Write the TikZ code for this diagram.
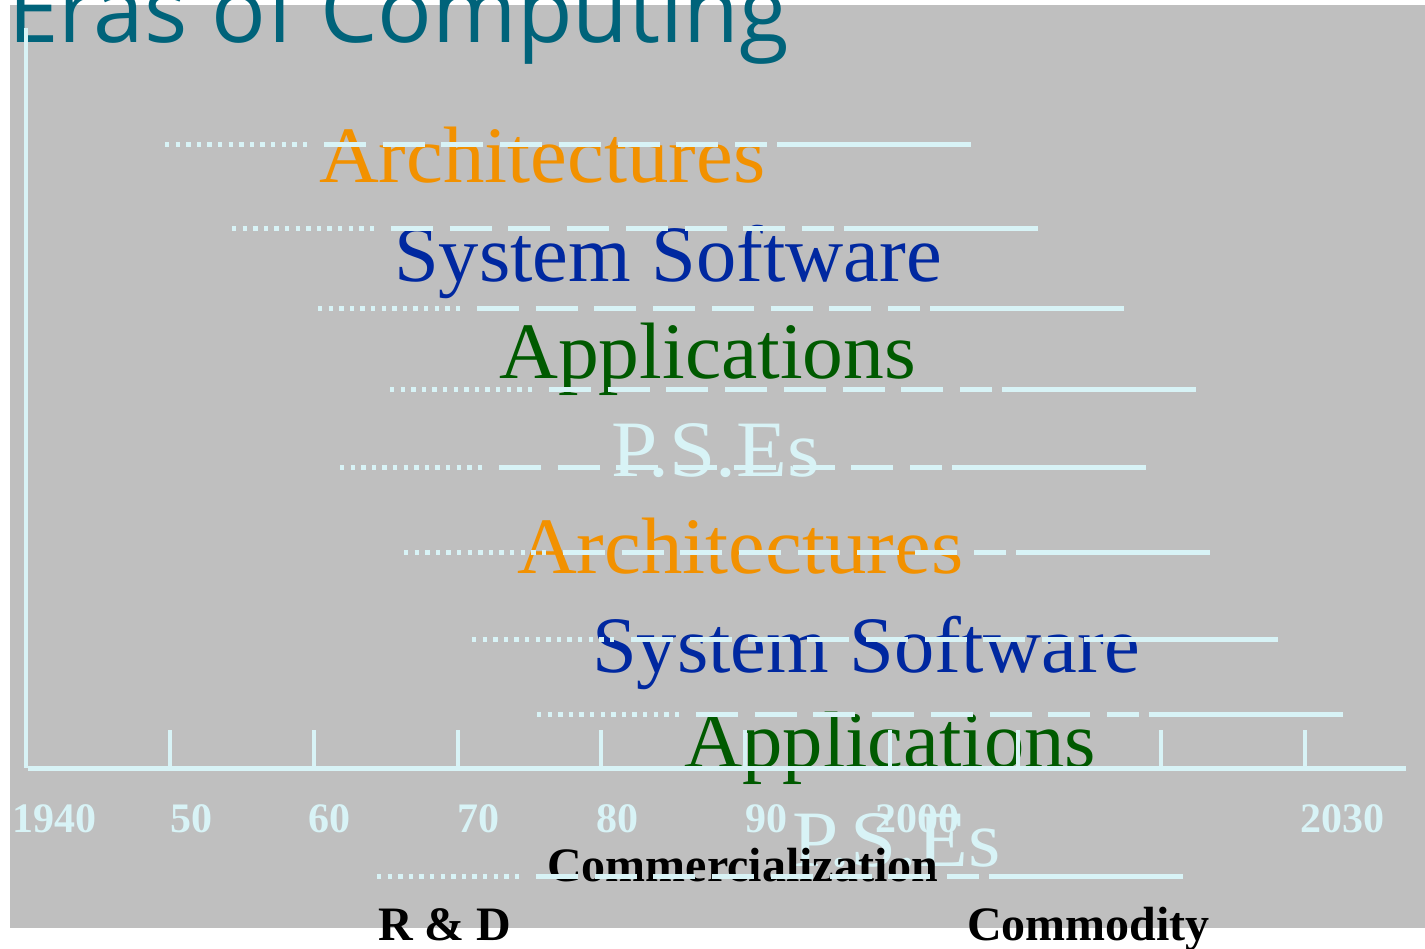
\documentclass[tikz,border=0pt]{standalone}
\usepackage{fontspec}
\usepackage{graphicx}
\setmainfont{Liberation Serif}
\newfontfamily\titlefont{Open Sans}
\definecolor{bggray}{RGB}{191,191,191}
\definecolor{linecyan}{RGB}{216,243,246}
\definecolor{archorange}{RGB}{242,145,0}
\definecolor{sysblue}{RGB}{0,40,160}
\definecolor{appgreen}{RGB}{0,90,0}
\definecolor{titleteal}{RGB}{0,99,122}
\tikzset{
  lbl/.style={anchor=base west, inner sep=0pt, font=\fontsize{80}{96}\selectfont},
  yearlbl/.style={anchor=base west, inner sep=0pt, text=linecyan, font=\fontsize{42}{50}\selectfont\bfseries},
  phaselbl/.style={anchor=base west, inner sep=0pt, text=black, font=\fontsize{48}{58}\selectfont\bfseries},
  dotseg/.style={draw=linecyan, line width=5pt, dash pattern=on 4.3pt off 6.3pt},
  dashseg/.style={draw=linecyan, line width=5pt, dash pattern=on 42pt off 16.7pt},
  solidseg/.style={draw=linecyan, line width=5pt},
  axisline/.style={draw=linecyan, line width=5pt},
  tickline/.style={draw=linecyan, line width=3.5pt}
}
\begin{document}
\begin{tikzpicture}[x=1pt,y=-1pt]
\useasboundingbox (0,0) rectangle (1425,949);
\fill[bggray] (10,5) rectangle (1425,928);
% title
\node[anchor=base west, inner sep=0pt, text=titleteal, font=\fontsize{91}{100}\titlefont] (title) at (8,43) {\scalebox{0.998}[1]{Eras of Computing}};
% labels
\node[lbl, text=archorange] (arch1) at (319,183) {\scalebox{1.035}[1]{Architectures}};
\node[lbl, text=sysblue] (sys1) at (394,282) {\scalebox{1.006}[1]{System Software}};
\node[lbl, text=appgreen] (app1) at (499,379) {\scalebox{1.02}[1]{Applications}};
\node[lbl, text=linecyan] (pse1) at (611,476) {\scalebox{1.04}[1]{P.S.Es}};
\node[lbl, text=archorange] (arch2) at (517,573) {\scalebox{1.035}[1]{Architectures}};
\node[lbl, text=sysblue] (sys2) at (592,672) {\scalebox{1.006}[1]{System Software}};
\node[lbl, text=appgreen] (app2) at (684,767) {\scalebox{1.008}[1]{Applications}};
% years
\node[yearlbl] (y1940) at (12,832) {1940};
\node[yearlbl] (y50) at (170,832) {50};
\node[yearlbl] (y60) at (308,832) {60};
\node[yearlbl] (y70) at (457,832) {70};
\node[yearlbl] (y80) at (596,832) {80};
\node[yearlbl] (y90) at (745,832) {90};
\node[yearlbl] (y2000) at (875,832) {2000};
\node[yearlbl] (y2030) at (1300,832) {2030};
\node[lbl, text=linecyan] (pse2) at (792,866) {\scalebox{1.04}[1]{P.S.Es}};
\node[phaselbl] (comm) at (547,881) {Commercialization};
\node[phaselbl] (rd) at (378,940) {R \& D};
\node[phaselbl] (commod) at (967,940) {Commodity};
% axes
\coordinate (axtop) at (25.5,28);
\coordinate (axcorner) at (25.5,768);
\coordinate (axleft) at (28,768);
\coordinate (axright) at (1406,768);
\draw[axisline, line width=4pt] (axtop) -- (axcorner);
\draw[axisline] (axleft) -- (axright);
\foreach \tx in {170,314,458,601,745,890,1018,1161,1305}{
  \draw[tickline] (\tx,730) -- (\tx,766);
}
% era rows
\foreach \s/\y in {165/145, 232/229, 318/309, 390/390, 340/468, 404/552, 472/639, 537/714, 377/876}{
  \draw[dotseg] (\s,\y) -- (\s+142,\y);
  \draw[dashseg] (\s+159,\y) -- (\s+602,\y);
  \draw[solidseg] (\s+612,\y) -- (\s+806,\y);
}
\end{tikzpicture}
\end{document}
